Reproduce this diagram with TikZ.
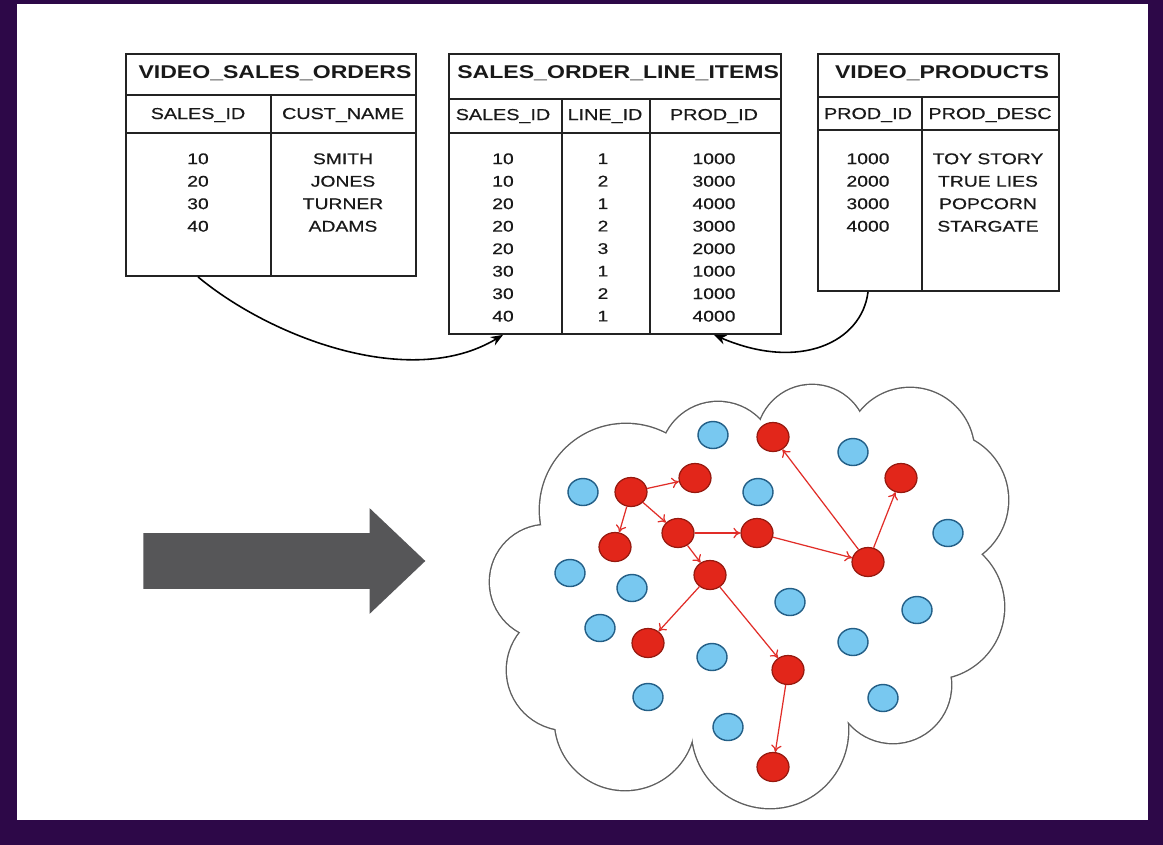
\documentclass[tikz,border=0pt]{standalone}
\usepackage{fontspec}
\newfontfamily\tabfont{Liberation Sans}[FakeStretch=1.25, FakeBold=0.45]
\newfontfamily\tabtitlefont{Liberation Sans}[FakeStretch=1.25]
\usetikzlibrary{shapes,shapes.arrows,arrows,arrows.meta,calc,positioning}

\definecolor{framepurple}{RGB}{45,8,72}
\definecolor{tabline}{RGB}{35,35,35}
\definecolor{tabtext}{RGB}{25,25,25}
\definecolor{arrowgray}{RGB}{86,86,88}
\definecolor{cloudgray}{RGB}{95,95,95}
\definecolor{nodered}{RGB}{226,38,26}
\definecolor{noderededge}{RGB}{150,25,15}
\definecolor{nodeblue}{RGB}{120,200,240}
\definecolor{nodeblueedge}{RGB}{35,95,135}
\definecolor{linkred}{RGB}{225,45,40}

\begin{document}
\begin{tikzpicture}[%
x=0.02cm, y=-0.02cm,
>={Stealth[length=7pt,width=5.5pt]},
tframe/.style={draw=tabline, line width=1.1pt, anchor=north west, inner sep=0},
tline/.style={draw=tabline, line width=0.9pt},
ttitle/.style={font=\tabtitlefont\bfseries\fontsize{10.5}{12}\selectfont, text=tabtext, inner sep=0, anchor=base},
colhead/.style={font=\tabfont\fontsize{9}{11}\selectfont, text=tabtext, inner sep=0, anchor=base},
coldata/.style={font=\tabfont\fontsize{8.8}{12.8}\selectfont, text=tabtext, inner sep=0, anchor=north, align=center},
fk/.style={->, draw=black, line width=0.9pt},
bnode/.style={ellipse, draw=nodeblueedge, fill=nodeblue, line width=0.8pt, inner sep=0, minimum width=0.6cm, minimum height=0.54cm},
rnode/.style={ellipse, draw=noderededge, fill=nodered, line width=0.7pt, inner sep=0, minimum width=0.64cm, minimum height=0.58cm},
link/.style={-{To[length=4pt,width=6pt]}, draw=linkred, line width=0.7pt}
]
% frame
\fill[framepurple] (0,0) rectangle (1163,845);
\fill[white] (17,4) rectangle (1148,820);

% VIDEO_SALES_ORDERS
\node[tframe, minimum width=5.8cm, minimum height=4.44cm] (vso) at (125,53) {};
\draw[tline] (125,95) -- (415,95);
\draw[tline] (125,133) -- (415,133);
\draw[tline] (271,95) -- (271,275);
\node[ttitle] (vsoTitle) at (275,78) {VIDEO\_SALES\_ORDERS};
\node[colhead] (vsoSid) at (198,119) {SALES\_ID};
\node[colhead] (vsoName) at (343,119) {CUST\_NAME};
\node[coldata] (vsoSidData) at (198,153) {10\\20\\30\\40};
\node[coldata] (vsoNameData) at (343,153) {SMITH\\JONES\\TURNER\\ADAMS};

% SALES_ORDER_LINE_ITEMS
\node[tframe, minimum width=6.64cm, minimum height=5.6cm] (soli) at (448,53) {};
\draw[tline] (448,99) -- (780,99);
\draw[tline] (448,133) -- (780,133);
\draw[tline] (562,99) -- (562,333);
\draw[tline] (650,99) -- (650,333);
\node[ttitle, anchor=base west] (soliTitle) at (457,78) {SALES\_ORDER\_LINE\_ITEMS};
\node[colhead] (soliSid) at (503,120) {SALES\_ID};
\node[colhead] (soliLid) at (605,120) {LINE\_ID};
\node[colhead] (soliPid) at (714,120) {PROD\_ID};
\node[coldata] (soliSidData) at (503,153) {10\\10\\20\\20\\20\\30\\30\\40};
\node[coldata] (soliLidData) at (603,153) {1\\2\\1\\2\\3\\1\\2\\1};
\node[coldata] (soliPidData) at (714,153) {1000\\3000\\4000\\3000\\2000\\1000\\1000\\4000};

% VIDEO_PRODUCTS
\node[tframe, minimum width=4.82cm, minimum height=4.74cm] (vp) at (817,53) {};
\draw[tline] (817,97) -- (1058,97);
\draw[tline] (817,130) -- (1058,130);
\draw[tline] (922,97) -- (922,290);
\node[ttitle] (vpTitle) at (942,78) {VIDEO\_PRODUCTS};
\node[colhead] (vpPid) at (868,119) {PROD\_ID};
\node[colhead] (vpDesc) at (990,119) {PROD\_DESC};
\node[coldata] (vpPidData) at (868,153) {1000\\2000\\3000\\4000};
\node[coldata] (vpDescData) at (988,153) {TOY STORY\\TRUE LIES\\POPCORN\\STARGATE};

% keys
\draw[fk] (vso.south -| vsoSid) .. controls +(72,60) and +(-93,56) .. (soli.south -| soliSid);
\draw[fk] (vp.south -| vpPid) .. controls +(-6,50) and +(86,37) .. (soli.south -| soliPid);

% big arrow
\node[single arrow, fill=arrowgray, anchor=tail, inner xsep=0, inner ysep=0.55cm,
      minimum height=5.64cm, single arrow head extend=0.5cm,
      single arrow tip angle=87] (flow) at (143,561) {};

% cloud
\foreach \cx/\cy/\r in {547/582/57, 626/510/86, 718/460/58, 812/440/55, 910/452/64,
    940/500/68, 932/607/72, 893/685/58, 770/730/78, 625/720/70, 567/670/60}
  \draw[cloudgray, line width=1.6pt] (\cx,\cy) circle (\r);
\foreach \cx/\cy/\r in {547/582/57, 626/510/86, 718/460/58, 812/440/55, 910/452/64,
    940/500/68, 932/607/72, 893/685/58, 770/730/78, 625/720/70, 567/670/60}
  \fill[white] (\cx,\cy) circle (\r);
\fill[white] (750,590) ellipse (200 and 150);

% blue nodes
\node[bnode] (b1) at (713,435) {};
\node[bnode] (b2) at (853,452) {};
\node[bnode] (b3) at (583,492) {};
\node[bnode] (b4) at (758,492) {};
\node[bnode] (b5) at (948,533) {};
\node[bnode] (b6) at (570,573) {};
\node[bnode] (b7) at (632,588) {};
\node[bnode] (b8) at (790,602) {};
\node[bnode] (b9) at (917,610) {};
\node[bnode] (b10) at (600,628) {};
\node[bnode] (b11) at (853,642) {};
\node[bnode] (b12) at (712,657) {};
\node[bnode] (b13) at (648,697) {};
\node[bnode] (b14) at (883,698) {};
\node[bnode] (b15) at (728,727) {};

% red nodes
\node[rnode] (r1) at (773,437) {};
\node[rnode] (r2) at (901,478) {};
\node[rnode] (r3) at (631,492) {};
\node[rnode] (r4) at (695,478) {};
\node[rnode] (r5) at (615,547) {};
\node[rnode] (r6) at (678,533) {};
\node[rnode] (r7) at (757,533) {};
\node[rnode] (r8) at (868,562) {};
\node[rnode] (r9) at (710,575) {};
\node[rnode] (r10) at (648,643) {};
\node[rnode] (r11) at (788,670) {};
\node[rnode] (r12) at (773,767) {};

% red links
\draw[link] (r3) -- (r4);
\draw[link] (r3) -- (r5);
\draw[link] (r3) -- (r6);
\draw[link] (r6) -- (r7);
\draw[link] (r6) -- (r9);
\draw[link] (r7) -- (r8);
\draw[link] (r8) -- (r1);
\draw[link] (r8) -- (r2);
\draw[link] (r9) -- (r10);
\draw[link] (r9) -- (r11);
\draw[link] (r11) -- (r12);
\end{tikzpicture}
\end{document}
